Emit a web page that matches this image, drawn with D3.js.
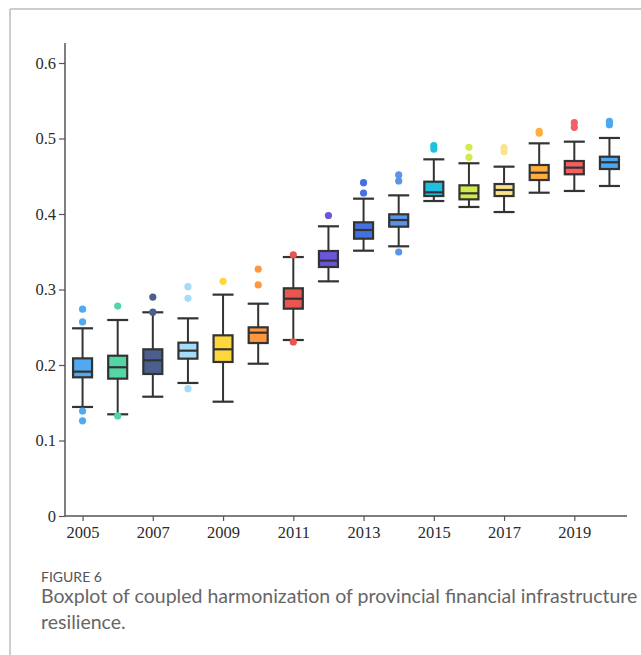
<!DOCTYPE html>
<html>
<head>
<meta charset="utf-8">
<script src="https://cdn.jsdelivr.net/npm/d3@7/dist/d3.min.js"></script>
<style>
  html, body { margin: 0; padding: 0; background: #fff; }
  svg { display: block; }
</style>
</head>
<body>
<svg id="chart" width="641" height="655"></svg>
<script>
// Yearly distribution summaries of the coupling coordination degree
const years = [2005, 2006, 2007, 2008, 2009, 2010, 2011, 2012, 2013, 2014, 2015, 2016, 2017, 2018, 2019, 2020];
const whiskerLow  = [0.1444, 0.1347, 0.158, 0.1762, 0.1514, 0.2017, 0.2331, 0.3108, 0.3514, 0.3572, 0.4172, 0.4093, 0.4026, 0.4282, 0.4305, 0.4371];
const q1          = [0.1837, 0.1819, 0.1881, 0.2084, 0.204, 0.2291, 0.2746, 0.3298, 0.3673, 0.3832, 0.4238, 0.4194, 0.4238, 0.445, 0.4526, 0.4596];
const median      = [0.1912, 0.197, 0.2062, 0.219, 0.2208, 0.2428, 0.2878, 0.3382, 0.3788, 0.392, 0.4287, 0.4274, 0.4318, 0.4547, 0.4614, 0.4685];
const q3          = [0.2088, 0.2123, 0.2208, 0.2296, 0.2393, 0.2499, 0.3016, 0.351, 0.389, 0.3996, 0.4428, 0.438, 0.4397, 0.4649, 0.4702, 0.4759];
const whiskerHigh = [0.2486, 0.2596, 0.2698, 0.2618, 0.2932, 0.2812, 0.343, 0.3837, 0.4203, 0.4247, 0.4724, 0.4672, 0.4627, 0.4936, 0.4958, 0.5007];
const outliers = [
  [0.274, 0.257, 0.139, 0.126],
  [0.278, 0.1325],
  [0.290, 0.270],
  [0.3037, 0.2883, 0.1687],
  [0.3108],
  [0.327, 0.306],
  [0.346, 0.2305],
  [0.398],
  [0.4415, 0.4278],
  [0.4517, 0.4437, 0.3497],
  [0.4905, 0.486],
  [0.4883, 0.4751],
  [0.4878, 0.4825],
  [0.5096, 0.507],
  [0.5209, 0.5148],
  [0.5228, 0.5183]
];
const colors = ["#52a9f2", "#52d6a4", "#4a5f8e", "#a6dcf9", "#fdd73b", "#ff9640", "#e8564f", "#6c55da", "#4570e2", "#5b93e6",
                "#1ec0dd", "#d3ea4c", "#fbe38c", "#ffae3e", "#f35f62", "#4ba8f1"];
const yTicks = [0, 0.1, 0.2, 0.3, 0.4, 0.5, 0.6];
const xTicks = [2005, 2007, 2009, 2011, 2013, 2015, 2017, 2019];

const svg = d3.select("#chart");

// Page frame lines
svg.append("line").attr("x1", 10).attr("x2", 10).attr("y1", 9).attr("y2", 655)
  .attr("stroke", "#bdbdbd").attr("stroke-width", 1.5);
svg.append("line").attr("x1", 10).attr("x2", 641).attr("y1", 9).attr("y2", 9)
  .attr("stroke", "#bdbdbd").attr("stroke-width", 1.5);

const x = d3.scaleLinear().domain([2004.5, 2020.5]).range([65, 627]);
const y = d3.scaleLinear().domain([0, 0.6]).range([516, 63]);

const axisFont = "'Liberation Serif', 'Times New Roman', serif";

// Y axis
const yAxis = svg.append("g").attr("transform", "translate(65,0)")
  .call(d3.axisLeft(y).tickValues(yTicks).tickSize(6).tickPadding(3)
    .tickFormat(d => d === 0 ? "0" : d3.format(".1f")(d)));
yAxis.select(".domain").attr("d", `M0,43V516`);

// X axis
const xAxis = svg.append("g").attr("transform", "translate(0,516)")
  .call(d3.axisBottom(x).tickValues(xTicks).tickSize(5).tickPadding(5).tickFormat(d3.format("d")));
xAxis.select(".domain").attr("d", `M65,0H627`);

[yAxis, xAxis].forEach(g => {
  g.selectAll(".domain").attr("stroke", "#555").attr("stroke-width", 1.5);
  g.selectAll(".tick line").attr("stroke", "#555").attr("stroke-width", 1.2);
  g.selectAll("text").attr("font-family", axisFont).attr("font-size", 16.5).attr("fill", "#2b2b2b");
});

// Boxes
const boxW = 19, capW = 21, dark = "#333";
const g = svg.append("g");
years.forEach((yr, i) => {
  const cx = x(yr);
  const bg = g.append("g");
  // whisker stem
  bg.append("line").attr("x1", cx).attr("x2", cx)
    .attr("y1", y(whiskerHigh[i])).attr("y2", y(whiskerLow[i]))
    .attr("stroke", dark).attr("stroke-width", 2);
  // caps
  [whiskerHigh[i], whiskerLow[i]].forEach(v => {
    bg.append("line").attr("x1", cx - capW / 2).attr("x2", cx + capW / 2)
      .attr("y1", y(v)).attr("y2", y(v)).attr("stroke", dark).attr("stroke-width", 2.2);
  });
  // box
  bg.append("rect").attr("x", cx - boxW / 2).attr("width", boxW)
    .attr("y", y(q3[i])).attr("height", y(q1[i]) - y(q3[i]))
    .attr("fill", colors[i]).attr("stroke", dark).attr("stroke-width", 2.2);
  // median
  bg.append("line").attr("x1", cx - boxW / 2).attr("x2", cx + boxW / 2)
    .attr("y1", y(median[i])).attr("y2", y(median[i]))
    .attr("stroke", dark).attr("stroke-width", 2.2);
  // outliers
  bg.selectAll("circle").data(outliers[i]).join("circle")
    .attr("cx", cx).attr("cy", d => y(d)).attr("r", 3.6)
    .attr("fill", colors[i]);
});

// Caption; the long line is sized so it spans the caption width
const capFont = "Lato, 'Open Sans', sans-serif";
function fitText(sel, baseSize, width) {
  sel.attr("font-size", baseSize);
  const w = sel.node().getComputedTextLength();
  if (w > 0) sel.attr("font-size", baseSize * width / w);
}
svg.append("text").attr("x", 41).attr("y", 582).attr("font-family", capFont)
  .attr("font-size", 14).attr("fill", "#555").text("FIGURE 6");
const line1 = svg.append("text").attr("x", 41).attr("y", 603).attr("font-family", capFont)
  .attr("fill", "#666")
  .text("Boxplot of coupled harmonization of provincial financial infrastructure");
fitText(line1, 18, 597);
svg.append("text").attr("x", 41).attr("y", 629).attr("font-family", capFont)
  .attr("font-size", line1.attr("font-size")).attr("fill", "#666").text("resilience.");
</script>
</body>
</html>
